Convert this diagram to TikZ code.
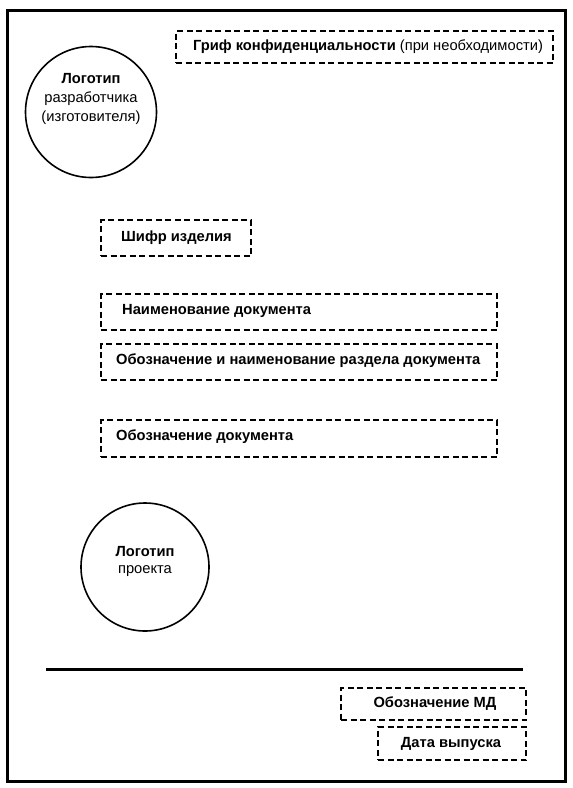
\documentclass[tikz,border=0pt]{standalone}
\usepackage{fontspec}
\setmainfont{Liberation Sans}
\begin{document}
\begin{tikzpicture}[x=1pt,y=-1pt,
  fnt/.style={font=\fontsize{14.7}{19}\selectfont},
  dbox/.style={draw,line width=1.8pt,dash pattern=on 6pt off 3.5pt,rectangle,inner sep=0pt},
  lbl/.style={fnt,font=\fontsize{14.7}{19}\selectfont\bfseries,anchor=west,inner sep=0pt},
  logo/.style={draw,circle,line width=1.6pt,inner sep=0pt},
  ltext/.style={fnt,align=center,inner sep=0pt},
  frame/.style={draw,line width=3pt}]
\useasboundingbox (0,0) rectangle (573,788);
\node[frame,rectangle,minimum width=558pt,minimum height=771pt,inner sep=0pt] (pg) at (286,395.5) {};
% top stamp
\node[dbox,minimum width=377pt,minimum height=32pt] (grif) at (364.5,47) {};
\node[inner sep=0pt,fnt] (grift) at (368,47) {\textbf{Гриф конфиденциальности} (при необходимости)};
% logo 1
\node[logo,minimum size=131pt] (logo1) at (91,112) {};
\node[ltext] (logo1t) at (91,99) {\textbf{Логотип}\\разработчика\\(изготовителя)};
% boxes
\node[dbox,minimum width=150pt,minimum height=36pt] (shifr) at (176,238) {};
\node[lbl] (shifrt) at (121,238) {Шифр изделия};
\node[dbox,minimum width=396pt,minimum height=36pt] (naim) at (299,312) {};
\node[lbl] (naimt) at (122,311) {Наименование документа};
\node[dbox,minimum width=396pt,minimum height=36pt] (razd) at (299,362) {};
\node[lbl] (razdt) at (116,361) {Обозначение и наименование раздела документа};
\node[dbox,minimum width=396pt,minimum height=37pt] (oboz) at (299,438.5) {};
\node[lbl] (obozt) at (116,437) {Обозначение документа};
% logo 2
\node[logo,minimum size=128pt] (logo2) at (145,567) {};
\node[ltext,font=\fontsize{14.7}{17}\selectfont] (logo2t) at (145,561) {\textbf{Логотип}\\проекта};
% line
\coordinate (l1) at (46,669);
\coordinate (l2) at (523,669);
\draw[line width=3pt] (l1) -- (l2);
% bottom boxes
\node[dbox,minimum width=185pt,minimum height=32pt] (md) at (433.5,704) {};
\node[lbl,anchor=center] (mdt) at (435,704) {Обозначение МД};
\node[dbox,minimum width=148pt,minimum height=33pt] (data) at (452,743.5) {};
\node[lbl,anchor=center] (datat) at (451,743.5) {Дата выпуска};
\end{tikzpicture}
\end{document}
